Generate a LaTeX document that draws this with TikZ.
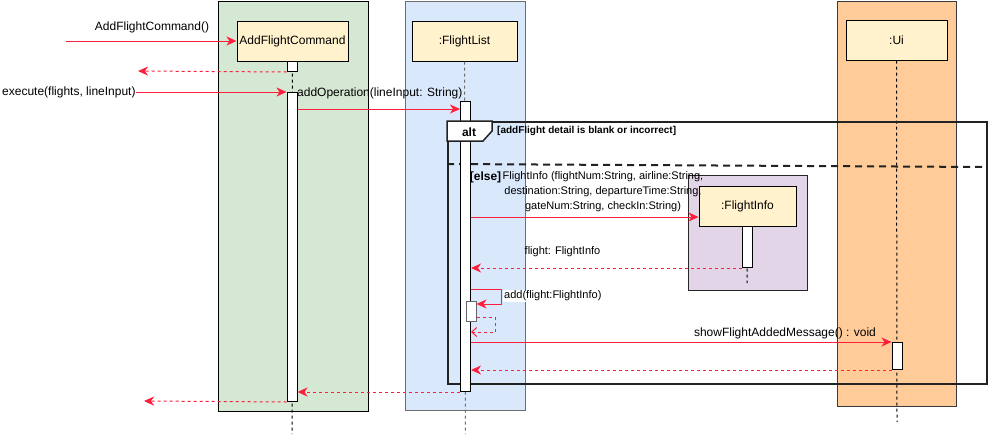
\documentclass[tikz,border=0pt]{standalone}
\usepackage{fontspec}
\setmainfont{Liberation Sans}
\usetikzlibrary{arrows.meta}
\definecolor{laneGreen}{HTML}{D5E8D4}
\definecolor{laneBlue}{HTML}{DAE8FC}
\definecolor{laneBlueLine}{HTML}{6E6E6E}
\definecolor{laneOrange}{HTML}{FFCC99}
\definecolor{laneOrangeLine}{HTML}{36393D}
\definecolor{lanePurple}{HTML}{E1D5E7}
\definecolor{headFill}{HTML}{FFF2CC}
\definecolor{msgRed}{HTML}{FF1E3C}
\definecolor{frameLine}{HTML}{222222}

\tikzset{
  lane/.style={draw, line width=1pt, inner sep=0pt, anchor=north west},
  header/.style={draw=black, fill=headFill, line width=1pt, inner sep=0pt,
    font=\fontsize{12}{14}\selectfont},
  actbar/.style={draw=black, fill=white, line width=1pt, inner sep=0pt,
    minimum width=10pt, anchor=north},
  lifeline/.style={line width=1pt, dash pattern=on 3pt off 3pt},
  call/.style={draw=msgRed, line width=1pt,
    -{Stealth[length=10pt,width=9pt,inset=3pt]}, color=msgRed},
  ret/.style={draw=msgRed, line width=1pt, dash pattern=on 3pt off 3pt,
    -{Stealth[length=10pt,width=9pt,inset=3pt]}, color=msgRed},
  selfret/.style={draw=msgRed, line width=1pt, dash pattern=on 3pt off 3pt,
    -{Straight Barb[length=5pt,width=9pt]}, color=msgRed},
  msglabel/.style={inner sep=0pt, font=\fontsize{12}{14}\selectfont},
  smalllabel/.style={inner sep=0pt, font=\fontsize{11}{15}\selectfont},
}

\begin{document}
\begin{tikzpicture}[x=1pt, y=-1pt]
\useasboundingbox[fill=white] (0,0) rectangle (990,434);

% swimlane backgrounds
\node[lane, fill=laneGreen, draw=black, minimum width=150pt, minimum height=410pt] (laneA) at (217.5,1) {};
\node[lane, fill=laneBlue, draw=laneBlueLine, minimum width=120pt, minimum height=409pt] (laneL) at (405,1) {};
\node[lane, fill=laneOrange, draw=laneOrangeLine, minimum width=119pt, minimum height=405pt] (laneU) at (837,1) {};
\node[lane, fill=lanePurple, draw=black!85, minimum width=119pt, minimum height=115pt] (laneF) at (688,174.5) {};

% participants
\node[header, minimum width=111pt, minimum height=40pt] (hdrA) at (292.5,41) {AddFlightCommand};
\node[header, minimum width=105pt, minimum height=40pt] (hdrL) at (464.5,41) {:FlightList};
\node[header, minimum width=101pt, minimum height=40pt] (hdrU) at (896.5,40) {:Ui};
\node[header, minimum width=97pt, minimum height=40pt] (hdrF) at (747.5,206) {:FlightInfo};

% lifeline ends
\coordinate (endA) at (292,434);
\coordinate (endL) at (465.5,434);
\coordinate (endU) at (897,422);
\coordinate (endF) at (747,283);

\draw[lifeline] (hdrA.south) -- (endA);
\draw[lifeline, draw=laneBlueLine] (hdrL.south) -- (endL);
\draw[lifeline] (hdrU.south) -- (endU);
\draw[lifeline] (hdrF.south) -- (endF);

% combined fragment
\node[draw=frameLine, line width=2pt, inner sep=0pt, anchor=north west,
  minimum width=539pt, minimum height=262pt] (alt) at (447,121) {};
\coordinate (sepL) at (447,164);
\coordinate (sepR) at (986,167);
\draw[frameLine, line width=2pt, dash pattern=on 7pt off 5pt] (sepL) -- (sepR);

% activation bars
\node[actbar, minimum height=10pt] (barA1) at (292,61) {};
\node[actbar, minimum height=309pt] (barA2) at (292,92) {};
\node[actbar, minimum height=290pt] (barL) at (465.5,101) {};
\node[actbar, minimum height=41pt] (barF) at (747,226) {};
\node[actbar, minimum height=27pt] (barU) at (897,342) {};
\node[actbar, draw=black!60, minimum height=20pt] (barL2) at (471,301) {};

% fragment operator tab
\draw[frameLine, line width=1.5pt, fill=white]
  (alt.north west) -- ++(45,0) -- ++(0,10) -- ++(-9,10) -- ++(-36,0) -- cycle;
\node[inner sep=0pt, font=\bfseries\fontsize{12}{14}\selectfont] (altTag) at (469,132) {alt};
\node[inner sep=0pt, anchor=west, font=\bfseries\fontsize{10}{12}\selectfont] (guard) at (497,131)
  {[addFlight detail is blank or incorrect]};
\node[inner sep=0pt, font=\bfseries\fontsize{12}{14}\selectfont] (elseTag) at (485.5,177) {[else]};

% AddFlightCommand()
\coordinate (srcCtor) at (66,41);
\draw[call] (srcCtor) -- (hdrA.west);
\node[msglabel] (lblCtor) at (152,27) {AddFlightCommand()};
\coordinate (dstCtor) at (138,71);
\draw[ret] (barA1.south west) -- (dstCtor);

% execute(flights, lineInput)
\node[msglabel, anchor=west] (lblExec) at (2,92) {execute(flights, lineInput)};
\draw[call] (lblExec.east) -- (barA2.north west);

% addOperation(lineInput: String)
\node[msglabel, anchor=west] (lblAdd) at (297,93) {addOperation(lineInput: String)};
\coordinate (yAdd) at (0,109);
\draw[call] (barA2.east |- yAdd) -- (barL.west |- yAdd);

% FlightInfo creation
\node[smalllabel, align=center] (lblNew) at (603,192)
  {FlightInfo (flightNum:String, airline:String,\\
   destination:String, departureTime:String,\\
   gateNum:String, checkIn:String)};
\coordinate (yNew) at (0,217);
\draw[call] (barL.east |- yNew) -- (hdrF.west |- yNew);
\draw[ret] (barF.south west) -- (barL.east |- barF.south);
\node[smalllabel] (lblFlight) at (562.5,252) {flight: FlightInfo};

% add(flight:FlightInfo) self call
\coordinate (ySelf) at (0,289);
\coordinate (selfTurn) at (501,304);
\draw[call] (barL.east |- ySelf) -| (selfTurn) -- (barL2.east |- selfTurn);
\node[smalllabel, anchor=west, fill=white, inner sep=1pt] (lblSelf) at (503,296) {add(flight:FlightInfo)};
\coordinate (ySelfRet) at (0,317);
\coordinate (selfRetTurn) at (495,332);
\draw[selfret] (barL2.east |- ySelfRet) -| (selfRetTurn) -- (barL.east |- selfRetTurn);

% showFlightAddedMessage()
\draw[call] (barL.east |- barU.north) -- (barU.north west);
\node[msglabel] (lblShow) at (785,333) {showFlightAddedMessage() : void};
\draw[ret] (barU.south west) -- (barL.east |- barU.south);

% returns
\draw[ret] (barL.south west) -- (barA2.east |- barL.south);
\coordinate (dstExec) at (144,401);
\draw[ret] (barA2.south west) -- (dstExec);
\end{tikzpicture}
\end{document}
